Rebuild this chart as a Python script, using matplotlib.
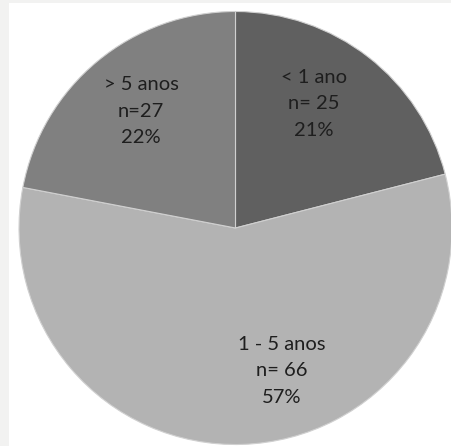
import matplotlib.pyplot as plt
from matplotlib.patches import Rectangle

# Data
labels = ['< 1 ano', '1 - 5 anos', '> 5 anos']
counts = [25, 66, 27]
percents = [21, 57, 22]
n_labels = [f'n= {counts[0]}', f'n= {counts[1]}', f'n={counts[2]}']
pct_labels = [f'{p}%' for p in percents]
colors = ['#606060', '#b3b3b3', '#808080']

# label positions in pie units (radius = 1)
label_xy = [(0.363, 0.573), (0.215, -0.66), (-0.436, 0.54)]

W, H = 451, 446
fig = plt.figure(figsize=(W / 100, H / 100), dpi=100, facecolor='white')

# light grey frame strips on left and top
fig.patches.append(Rectangle((0, 0), 9 / W, 1, transform=fig.transFigure,
                             facecolor='#f2f2f1', edgecolor='none', zorder=0))
fig.patches.append(Rectangle((0, 1 - 2.5 / H), 1, 2.5 / H, transform=fig.transFigure,
                             facecolor='#f2f2f1', edgecolor='none', zorder=0))

cx, cy, r = 235.5, 228, 216.5
ax = fig.add_axes([(cx - r) / W, (H - cy - r) / H, 2 * r / W, 2 * r / H])
ax.pie(percents, colors=colors, startangle=90, counterclock=False,
       wedgeprops=dict(edgecolor='#d0d0d0', linewidth=0.8))
ax.set_xlim(-1, 1)
ax.set_ylim(-1, 1)
ax.set_aspect('auto')
ax.axis('off')

for (x, y), lab, n, p in zip(label_xy, labels, n_labels, pct_labels):
    ax.text(x, y, f'{lab}\n{n}\n{p}', ha='center', va='center',
            fontsize=14.5, family=['Lato', 'DejaVu Sans'], color='#1e1e1e',
            linespacing=1.68)

fig.savefig('out.png', dpi=100, facecolor='white')
